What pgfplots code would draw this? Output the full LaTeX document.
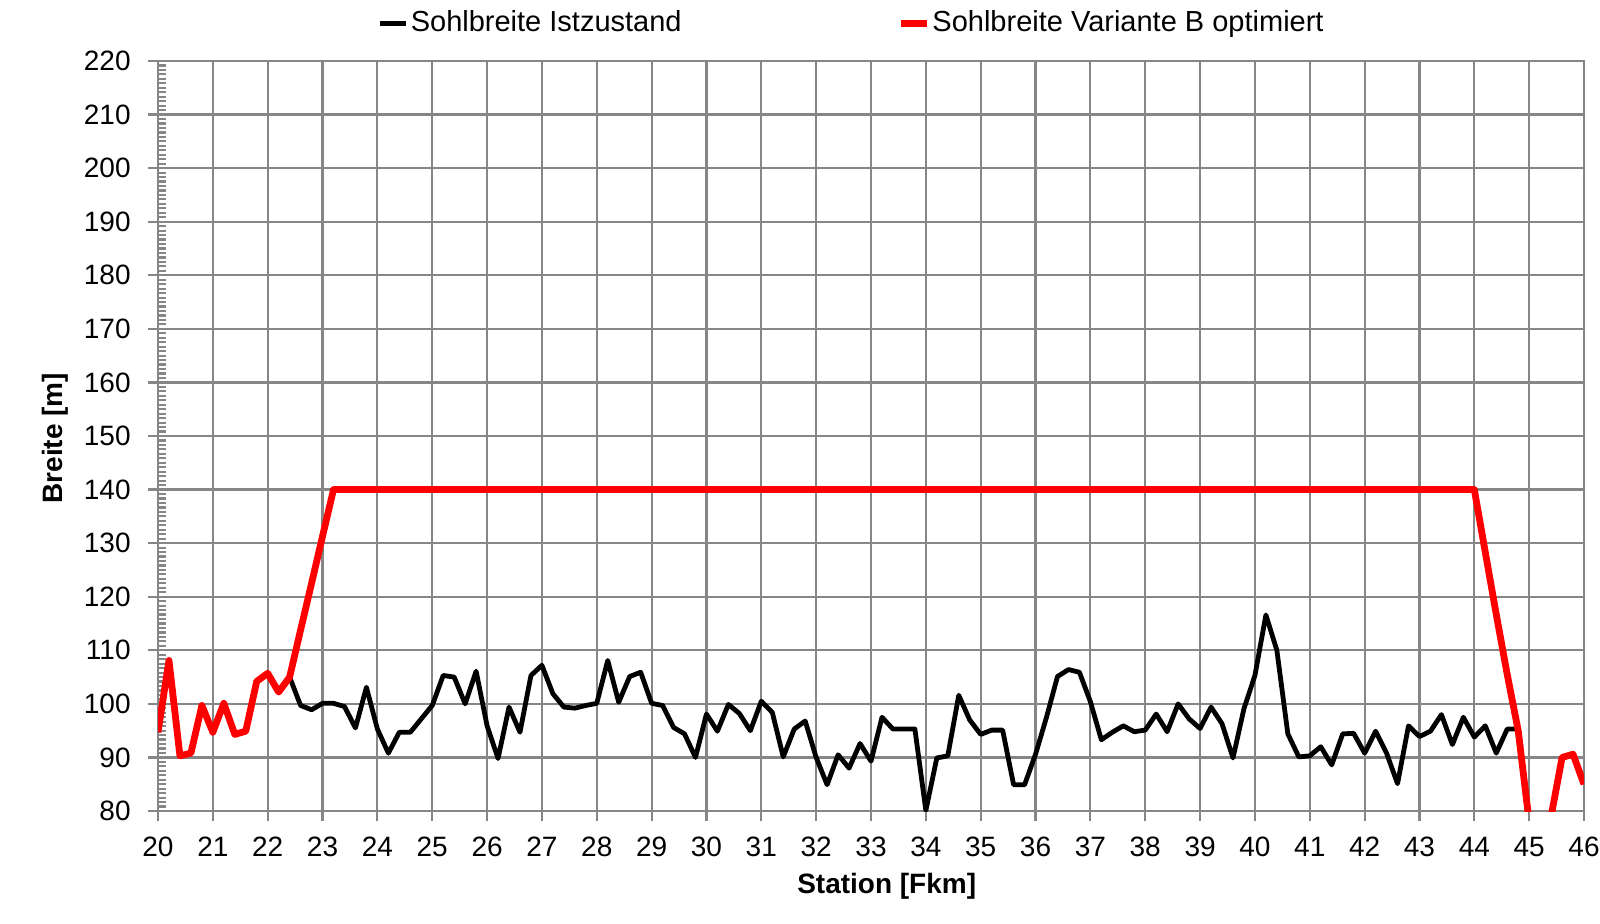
\documentclass[border=0pt]{standalone}
\usepackage{fontspec}
\setmainfont{Liberation Sans}
\usepackage{pgfplots}
\pgfplotsset{compat=1.18}
\definecolor{gridgray}{RGB}{134,134,134}
\definecolor{myred}{RGB}{255,0,0}

\pgfplotstableread{
x y
20.0 94.7
20.2 108.1
20.4 90.3
20.6 90.8
20.8 99.7
21.0 94.7
21.2 100.1
21.4 94.3
21.6 94.9
21.8 104.2
22.0 105.7
22.2 102.2
22.4 105.0
22.6 99.7
22.8 98.9
23.0 100.1
23.2 100.1
23.4 99.5
23.6 95.5
23.8 103.1
24.0 95.3
24.2 90.8
24.4 94.7
24.6 94.7
24.8 97.2
25.0 99.7
25.2 105.3
25.4 105.0
25.6 100.0
25.8 106.1
26.0 95.9
26.2 89.8
26.4 99.4
26.6 94.7
26.8 105.3
27.0 107.2
27.2 101.9
27.4 99.4
27.6 99.2
27.8 99.7
28.0 100.1
28.2 108.1
28.4 100.3
28.6 105.1
28.8 105.9
29.0 100.1
29.2 99.7
29.4 95.6
29.6 94.4
29.8 90.0
30.0 98.1
30.2 94.9
30.4 99.9
30.6 98.2
30.8 95.0
31.0 100.5
31.2 98.4
31.4 90.1
31.6 95.3
31.8 96.8
32.0 90.0
32.2 84.9
32.4 90.5
32.6 88.0
32.8 92.6
33.0 89.3
33.2 97.5
33.4 95.3
33.6 95.3
33.8 95.3
34.0 80.1
34.2 89.9
34.4 90.3
34.6 101.6
34.8 97.0
35.0 94.3
35.2 95.1
35.4 95.1
35.6 84.9
35.8 84.9
36.0 90.6
36.2 97.5
36.4 105.1
36.6 106.4
36.8 105.9
37.0 100.4
37.2 93.3
37.4 94.7
37.6 95.9
37.8 94.8
38.0 95.1
38.2 98.1
38.4 94.8
38.6 100.0
38.8 97.2
39.0 95.4
39.2 99.4
39.4 96.3
39.6 89.9
39.8 99.1
40.0 105.3
40.2 116.6
40.4 110.0
40.6 94.4
40.8 90.1
41.0 90.3
41.2 92.0
41.4 88.6
41.6 94.4
41.8 94.5
42.0 90.8
42.2 94.9
42.4 90.8
42.6 85.1
42.8 95.9
43.0 93.9
43.2 94.9
43.4 98.0
43.6 92.4
43.8 97.5
44.0 93.8
44.2 95.9
44.4 90.8
44.6 95.3
44.8 95.3
}\istdata

\pgfplotstableread{
x y
20.0 94.7
20.2 108.1
20.4 90.3
20.6 90.8
20.8 99.7
21.0 94.7
21.2 100.1
21.4 94.3
21.6 94.9
21.8 104.2
22.0 105.7
22.2 102.2
22.4 105.0
22.6 113.8
22.8 122.5
23.0 131.3
23.2 140.0
24.0 140.0
30.0 140.0
40.0 140.0
44.0 140.0
44.2 128.3
44.4 116.7
44.6 105.5
44.8 95.0
45.0 78.0
45.2 70.0
45.4 79.0
45.6 90.0
45.8 90.6
46.0 85.0
}\vardata

\begin{document}
\fontsize{14pt}{16pt}\selectfont
\begin{tikzpicture}
\useasboundingbox (0,0) rectangle (800pt,461.5pt);
\begin{axis}[
  at={(79pt,56pt)}, anchor=south west,
  width=713pt, height=375pt, scale only axis,
  xmin=20, xmax=46, ymin=80, ymax=220,
  xtick={20,21,...,46}, ytick={80,90,...,220},
  minor y tick num=11,
  tick pos=left,
  tick align=outside,
  major tick length=5pt,
  minor tick length=4pt,
  minor y tick style={xshift=4pt},
  grid=major,
  major grid style={gridgray, line width=1.1pt},
  axis line style={gridgray, line width=1.1pt},
  every tick/.style={gridgray, line width=1.1pt},
  /pgf/number format/assume math mode=true,
  tick label style={font=\fontsize{14pt}{16pt}\selectfont, text=black},
  yticklabel style={anchor=east, inner sep=0pt, xshift=-8.5pt},
  xticklabel style={anchor=north, inner sep=0pt, yshift=-8pt},
  xlabel={\textbf{Station [Fkm]}},
  ylabel={\textbf{Breite [m]}},
  every axis x label/.style={at={(axis description cs:0.511,-0.1)}, anchor=center, font=\fontsize{14pt}{16pt}\selectfont},
  every axis y label/.style={at={(axis description cs:-0.0722,0.497)}, rotate=90, anchor=center, font=\fontsize{14pt}{16pt}\selectfont},
  legend columns=2,
  legend style={at={(0.154,1.05)}, anchor=west, draw=none, fill=none,
    font=\fontsize{14.5pt}{16pt}\selectfont, inner sep=0pt,
    nodes={inner sep=1pt},
    /tikz/every even column/.append style={column sep=107pt}},
  legend image code/.code={\draw[#1] (0pt,0pt) -- (13pt,0pt);},
  no markers,
]
\addplot[black, line width=2.4pt, line join=round] table[x=x,y=y] {\istdata};
\addlegendentry{Sohlbreite Istzustand}
\addplot[myred, line width=3.4pt, line join=round] table[x=x,y=y] {\vardata};
\addlegendentry{Sohlbreite Variante B optimiert}
\end{axis}
\end{tikzpicture}
\end{document}
